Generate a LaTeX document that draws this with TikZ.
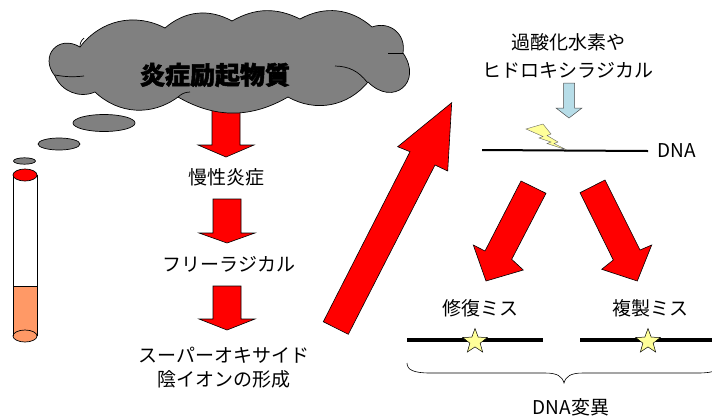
\documentclass[tikz,border=0pt]{standalone}
\usepackage{fontspec}
\setmainfont{Noto Sans CJK JP}
\newfontfamily\heavyfont{Noto Sans CJK JP}[BoldFeatures={FakeBold=2}]
\usetikzlibrary{shapes.geometric}
\definecolor{smokegray}{HTML}{808080}
\definecolor{filterorange}{HTML}{FF9966}
\definecolor{paleblue}{HTML}{B7DDE8}
\definecolor{paleyellow}{HTML}{FFFF99}
\tikzset{
  blockarrow/.style={fill=red, draw=black, line width=0.6pt, line join=miter},
  puff/.style={fill=smokegray, draw=black, line width=0.7pt},
  txt/.style={font=\fontsize{19}{24}\selectfont, inner sep=0pt, align=center},
  titletxt/.style={font=\fontsize{25}{30}\selectfont\heavyfont\bfseries, inner sep=0pt},
  strand/.style={line width=3.5pt},
  starbadge/.style={star, star points=5, star point ratio=2.4, minimum size=26pt,
    inner sep=0pt, fill=paleyellow, draw=black, line width=0.5pt},
}
\begin{document}
\begin{tikzpicture}[x=1pt,y=-1pt]
\clip (0,0) rectangle (712,416);
\fill[white] (0,0) rectangle (712,416);

% first step arrow, its top hidden under the cloud
\draw[blockarrow] (212,100) -- (240,100) -- (240,145) -- (254,145) -- (226,157)
  -- (198,145) -- (212,145) -- cycle;

% cloud of inflammatory agents
\draw[puff] (55,76) to[bend left=80, looseness=1.7] (80,47)
  to[bend left=40] (165,28)
  to[bend left=35] (232,21)
  to[bend left=28] (300,19)
  to[bend left=35] (372,27)
  to[bend left=60, looseness=1.2] (403,53)
  to[bend left=85, looseness=2] (368,82)
  to[bend left=40] (288,97)
  to[bend left=30] (178,97)
  to[bend left=40] (95,92)
  to[bend left=45] cycle;
\draw[line width=0.7pt] (55,75) to[bend right=8] (84,76);
\draw[line width=0.7pt] (80,47) to[bend left=25] (84,38);
\draw[line width=0.7pt] (335,66) to[bend left=25] (367,82);
\draw[line width=0.7pt] (388,53) -- (403,53);
\draw[line width=0.7pt] (178,97) to[bend left=20] (190,92);
\node[titletxt] (agent) at (215,75) {炎症励起物質};

% rising smoke puffs
\draw[puff] (104,123) ellipse [x radius=31pt, y radius=8.5pt];
\draw[puff] (59,144) ellipse [x radius=21pt, y radius=6pt];
\draw[puff] (24.5,161) ellipse [x radius=11pt, y radius=3.2pt];

% cigarette
\fill[filterorange] (13,286) rectangle (37,336);
\draw[fill=filterorange, line width=0.7pt] (25,336) ellipse [x radius=12pt, y radius=6pt];
\draw[line width=0.7pt] (13,175) -- (13,336) (37,175) -- (37,336) (13,286) -- (37,286);
\draw[fill=red, line width=0.7pt] (25,175) ellipse [x radius=12pt, y radius=6pt];

% left cascade
\node[txt] (chronic) at (226,177) {慢性炎症};
\draw[blockarrow] (213,199) -- (241,199) -- (241,233) -- (255,233) -- (227,243)
  -- (199,233) -- (213,233) -- cycle;
\node[txt] (radical) at (229,264) {フリーラジカル};
\draw[blockarrow] (213,286) -- (241,286) -- (241,319) -- (255,319) -- (227,330)
  -- (199,319) -- (213,319) -- cycle;
\node[txt] (superoxide) at (224,368) {スーパーオキサイド\\陰イオンの形成};

% large rising arrow
\draw[blockarrow] (451.7,102.7) -- (447.7,171) -- (435,165) -- (348.3,334.3)
  -- (323.3,321.7) -- (410,151.7) -- (397.7,146.7) -- cycle;

% oxidants attacking DNA
\node[txt, font=\fontsize{19}{28}\selectfont] (oxidant) at (568,56) {過酸化水素や\\ヒドロキシラジカル};
\draw[fill=paleblue, draw=black!70, line width=0.5pt] (563.5,83) -- (574.5,83) -- (574.5,108)
  -- (582,108) -- (569,118) -- (556,108) -- (563.5,108) -- cycle;
\node[txt, anchor=west] (dna) at (657,151) {DNA};
\coordinate (dnastart) at (482,150);
\draw[line width=2pt] (dnastart) -- (dna.west -| 648,150);
\draw[fill=paleyellow, draw=black!60, line width=0.4pt] (526,129) -- (543,124) -- (551,134)
  -- (547,135.5) -- (558,142) -- (554,143.5) -- (567,150) -- (547,143.5) -- (551,142)
  -- (539,138) -- (543,136.5) -- cycle;

% branching arrows
\draw[blockarrow] (521,181) -- (546,193.3) -- (511.7,259.3) -- (523.3,270) -- (486,281)
  -- (473.3,245) -- (485,251) -- cycle;
\draw[blockarrow] (605,180) -- (640,250) -- (651.7,245) -- (637.3,281) -- (601.7,269.3)
  -- (613.3,260) -- (580,192.7) -- cycle;

% mutation outcomes
\node[txt] (repair) at (480,308) {修復ミス};
\node[txt] (replic) at (650,308) {複製ミス};
\coordinate (la) at (407,340);
\coordinate (lb) at (543,340);
\coordinate (ra) at (580,340);
\coordinate (rb) at (712,340);
\draw[strand] (la) -- (lb);
\draw[strand] (ra) -- (rb);
\node[starbadge] (lstar) at (475,341.5) {};
\node[starbadge] (rstar) at (648,341.5) {};

% brace and caption
\draw[line width=0.6pt] (407,363) .. controls (407,370) and (414,373) .. (430,373)
  -- (545,373) .. controls (557,373) and (562,376) .. (564,383)
  .. controls (566,376) and (571,373) .. (583,373) -- (698,373)
  .. controls (714,373) and (721,370) .. (721,363);
\node[txt] (mutation) at (571,407) {DNA変異};
\end{tikzpicture}
\end{document}
